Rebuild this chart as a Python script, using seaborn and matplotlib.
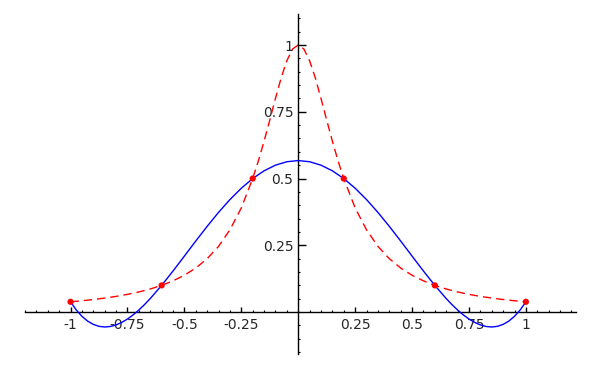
import matplotlib
matplotlib.use("Agg")
import matplotlib.pyplot as plt
import seaborn as sns
import pandas as pd
from matplotlib.ticker import FixedLocator, FixedFormatter, MultipleLocator

# --- data ---
red_x = [-1.0, -0.95, -0.9, -0.85, -0.8, -0.75, -0.7, -0.65, -0.6, -0.55, -0.5,
         -0.45, -0.4, -0.35, -0.3, -0.25, -0.2, -0.175, -0.15, -0.125, -0.1,
         -0.075, -0.05, -0.025, 0.0, 0.025, 0.05, 0.075, 0.1, 0.125, 0.15, 0.175,
         0.2, 0.25, 0.3, 0.35, 0.4, 0.45, 0.5, 0.55, 0.6, 0.65, 0.7, 0.75, 0.8,
         0.85, 0.9, 0.95, 1.0]
red_y = [0.0385, 0.0424, 0.0471, 0.0525, 0.0588, 0.0664, 0.0755, 0.0865, 0.1, 0.117, 0.138,
         0.165, 0.2, 0.246, 0.308, 0.390, 0.5, 0.566, 0.640, 0.719, 0.8,
         0.877, 0.941, 0.985, 1.0, 0.985, 0.941, 0.877, 0.8, 0.719, 0.640, 0.566,
         0.5, 0.390, 0.308, 0.246, 0.2, 0.165, 0.138, 0.117, 0.1, 0.0865, 0.0755, 0.0664, 0.0588,
         0.0525, 0.0471, 0.0424, 0.0385]

blue_x = [-1.0, -0.975, -0.95, -0.925, -0.9, -0.875, -0.85, -0.825, -0.8, -0.775, -0.75,
          -0.725, -0.7, -0.675, -0.65, -0.6, -0.55, -0.5,
          -0.45, -0.4, -0.35, -0.3, -0.25, -0.2, -0.15, -0.1, -0.05, 0.0,
          0.05, 0.1, 0.15, 0.2, 0.25, 0.3, 0.35, 0.4, 0.45, 0.5,
          0.55, 0.6, 0.65, 0.675, 0.7, 0.725, 0.75, 0.775, 0.8, 0.825, 0.85,
          0.875, 0.9, 0.925, 0.95, 0.975, 1.0]
blue_y = [0.0385, 0.0082, -0.0157, -0.0337, -0.0460, -0.0533, -0.0558, -0.0539, -0.0481, -0.0386, -0.0259,
          -0.0104, 0.0078, 0.0282, 0.0506, 0.1, 0.1537, 0.2097,
          0.2661, 0.3211, 0.3733, 0.4213, 0.4638, 0.5, 0.5290, 0.5501, 0.5630, 0.5673,
          0.5630, 0.5501, 0.5290, 0.5, 0.4638, 0.4213, 0.3733, 0.3211, 0.2661, 0.2097,
          0.1537, 0.1, 0.0506, 0.0282, 0.0078, -0.0104, -0.0259, -0.0386, -0.0481, -0.0539, -0.0558,
          -0.0533, -0.0460, -0.0337, -0.0157, 0.0082, 0.0385]

node_x = [-1.0, -0.6, -0.2, 0.2, 0.6, 1.0]
node_y = [0.0385, 0.1, 0.5, 0.5, 0.1, 0.0385]

x_tick_values = [-1, -0.75, -0.5, -0.25, 0.25, 0.5, 0.75, 1]
x_tick_labels = ["-1", "-0.75", "-0.5", "-0.25", "0.25", "0.5", "0.75", "1"]
y_tick_values = [0.25, 0.5, 0.75, 1]
y_tick_labels = ["0.25", "0.5", "0.75", "1"]

# --- styling ---
sns.set_style("white")
plt.rcParams["font.family"] = ["DejaVu Sans"]
plt.rcParams["axes.unicode_minus"] = False

fig = plt.figure(figsize=(6, 3.7), dpi=100)
ax = fig.add_axes([25 / 600, (370 - 354.3) / 370, 551 / 600, 340 / 370])

red_df = pd.DataFrame({"x": red_x, "y": red_y})
blue_df = pd.DataFrame({"x": blue_x, "y": blue_y})
node_df = pd.DataFrame({"x": node_x, "y": node_y})

sns.lineplot(data=blue_df, x="x", y="y", ax=ax, color="#0000ff", lw=1.0,
             estimator=None, sort=False, zorder=3)
sns.lineplot(data=red_df, x="x", y="y", ax=ax, color="#ff0000", lw=1.0,
             estimator=None, sort=False, zorder=2)
ax.lines[-1].set_dashes((6.0, 3.6))
sns.scatterplot(data=node_df, x="x", y="y", ax=ax, color="#ff0000", s=20,
                edgecolor="none", zorder=4)

ax.set_xlim(-1.2, 1.22)
ax.set_ylim(-0.158, 1.115)
ax.set_xlabel("")
ax.set_ylabel("")

for s in ["top", "right"]:
    ax.spines[s].set_visible(False)
ax.spines["left"].set_position(("data", 0))
ax.spines["bottom"].set_position(("data", 0))
for s in ["left", "bottom"]:
    ax.spines[s].set_color("black")
    ax.spines[s].set_linewidth(1.0)

ax.xaxis.set_major_locator(FixedLocator(x_tick_values))
ax.xaxis.set_major_formatter(FixedFormatter(x_tick_labels))
ax.yaxis.set_major_locator(FixedLocator(y_tick_values))
ax.yaxis.set_major_formatter(FixedFormatter(y_tick_labels))
ax.xaxis.set_minor_locator(MultipleLocator(0.05))
ax.yaxis.set_minor_locator(MultipleLocator(0.05))

ax.tick_params(axis="x", which="major", direction="in", length=3.6, width=1.0,
               color="black", labelsize=10, pad=4, bottom=True)
ax.tick_params(axis="y", which="major", direction="in", length=5.5, width=1.0,
               color="black", labelsize=10, pad=3.5, left=True)
ax.tick_params(axis="both", which="minor", direction="in", length=1.6, width=0.8,
               color="black", bottom=True, left=True)
ax.grid(False)
ax.set_facecolor("white")
fig.patch.set_facecolor("white")

fig.savefig("out.png", dpi=100, facecolor="white")
